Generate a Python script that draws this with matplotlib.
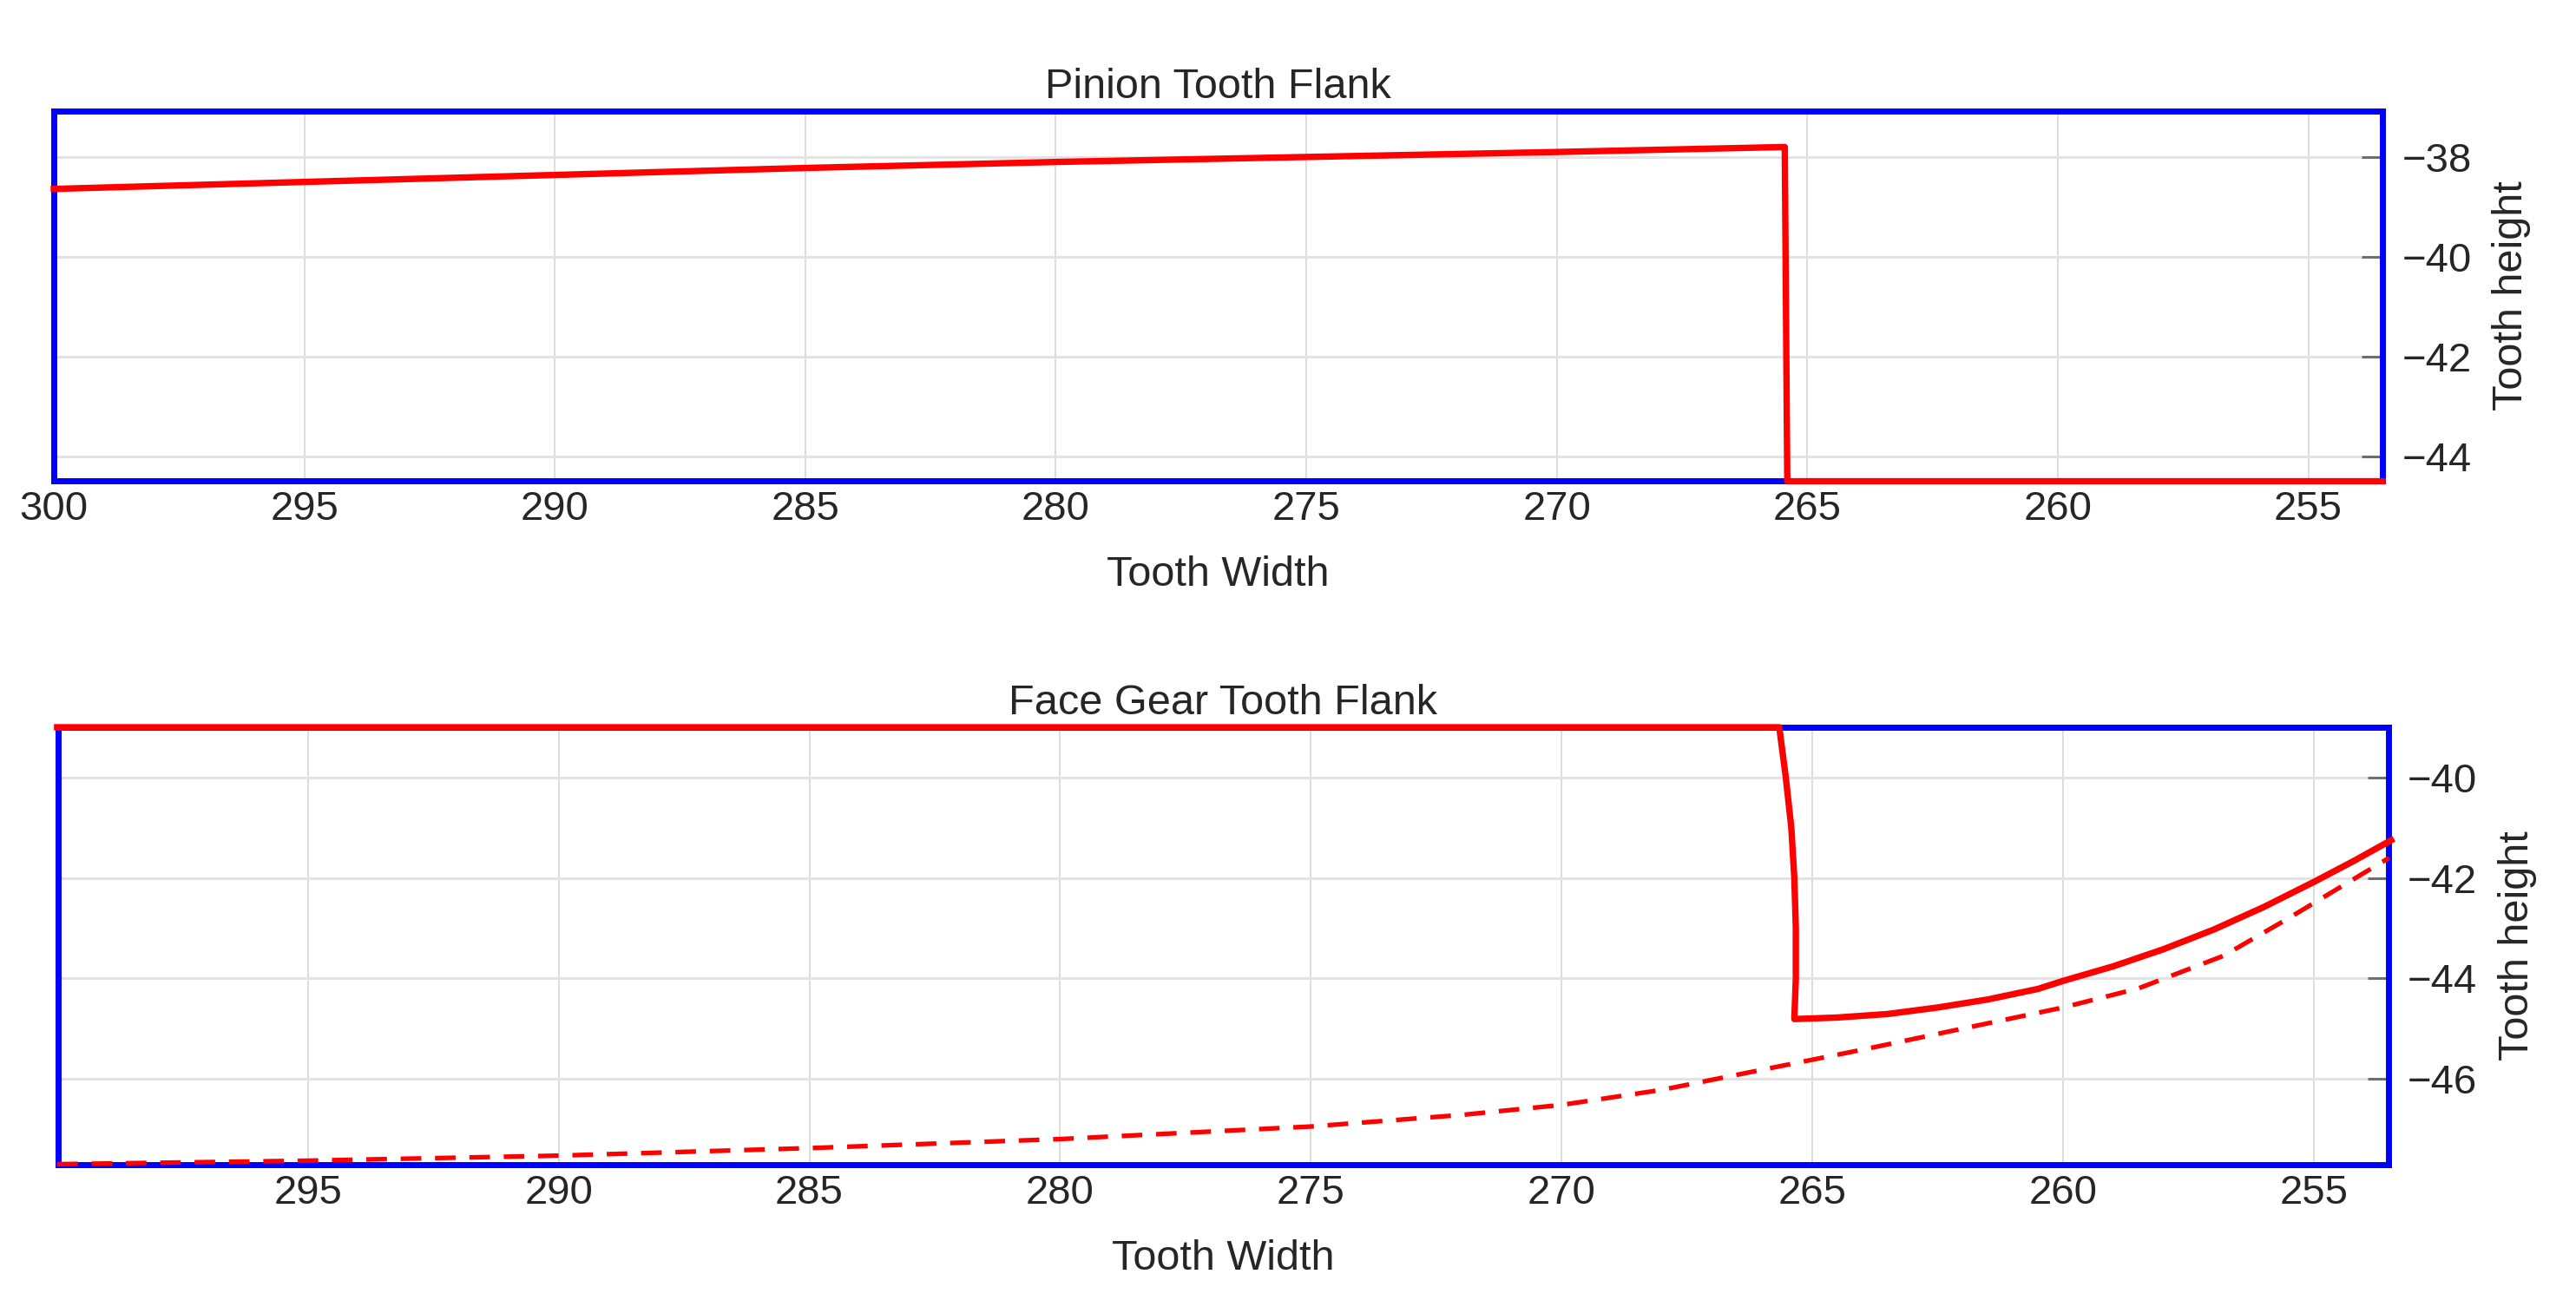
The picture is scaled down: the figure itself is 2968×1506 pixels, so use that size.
import matplotlib
matplotlib.use("Agg")
import matplotlib.pyplot as plt

plt.rcParams["font.family"] = ["Liberation Sans", "DejaVu Sans"]

# Pinion tooth flank profile
pinion_x = [300.0, 295.0, 290.0, 285.0, 280.0, 275.0, 270.0, 265.45, 265.4, 253.52]
pinion_y = [-38.64, -38.50, -38.36, -38.22, -38.10, -38.00, -37.90, -37.80, -44.5, -44.5]

# Face gear tooth flank, solid profile
face_x = [300.0, 265.66, 265.53, 265.42, 265.36, 265.33, 265.33, 265.36,
          264.5, 263.5, 262.5, 261.5, 260.5, 260.0, 259.0, 258.0, 257.0,
          256.0, 255.0, 254.2, 253.46]
face_y = [-39.0, -39.0, -40.0, -41.0, -42.0, -43.0, -44.0, -44.81,
          -44.78, -44.71, -44.58, -44.42, -44.21, -44.05, -43.76, -43.42, -43.03,
          -42.58, -42.08, -41.66, -41.25]

# Face gear tooth flank, dashed profile
dash_x = [300.0, 295.0, 290.0, 285.0, 280.0, 275.0, 272.0, 270.0, 268.0, 266.0,
          264.0, 262.0, 260.0, 258.5, 256.8, 255.5, 254.5, 253.5]
dash_y = [-47.70, -47.63, -47.53, -47.38, -47.20, -46.95, -46.72, -46.52, -46.22, -45.82,
          -45.42, -45.00, -44.58, -44.20, -43.55, -42.80, -42.20, -41.60]

top_yticks = [-38, -40, -42, -44]
bot_yticks = [-40, -42, -44, -46]
top_xticks = [300, 295, 290, 285, 280, 275, 270, 265, 260, 255]
bot_xticks = [295, 290, 285, 280, 275, 270, 265, 260, 255]

W, H = 2968, 1506
fig = plt.figure(figsize=(W / 100, H / 100), dpi=100)

text_col = "#262626"
fs = 35
tick_fs = 34


def style(ax, xlim, ylim, xticks, yticks, title):
    ax.set_xlim(*xlim)
    ax.set_ylim(*ylim)
    ax.set_xticks(xticks)
    ax.set_yticks(yticks)
    ax.yaxis.tick_right()
    ax.yaxis.set_label_position("right")
    for s in ax.spines.values():
        s.set_color("blue")
        s.set_linewidth(5)
    ax.tick_params(axis="x", length=0, pad=8, labelsize=tick_fs, labelcolor=text_col)
    ax.tick_params(axis="y", direction="in", length=17, width=2.2, color="#6e6e6e",
                   pad=16, labelsize=tick_fs, labelcolor=text_col)
    ax.grid(axis="y", color="#e3e3e3", linewidth=2.2)
    ax.grid(axis="x", color="#dadada", linewidth=1.3)
    ax.set_axisbelow(True)
    ax.set_title(title, fontsize=fs, color=text_col, pad=11)
    ax.set_xlabel("Tooth Width", fontsize=fs, color=text_col, labelpad=22)
    ax.set_ylabel("Tooth height", fontsize=fs, color=text_col, labelpad=17)


ax1 = fig.add_axes([62 / W, 1 - 554 / H, (2745 - 62) / W, (554 - 128) / H])
style(ax1, (300.0, 253.52), (-44.49, -37.08), top_xticks, top_yticks, "Pinion Tooth Flank")
ax1.plot(pinion_x, pinion_y, color="red", linewidth=5.3, clip_on=False, zorder=5)

ax2 = fig.add_axes([67 / W, 1 - 1342 / H, (2751.5 - 67) / W, (1342 - 838) / H])
style(ax2, (299.98, 253.52), (-47.71, -39.0), bot_xticks, bot_yticks, "Face Gear Tooth Flank")
ax2.plot(face_x, face_y, color="red", linewidth=5.3, clip_on=False, zorder=5)
ax2.plot(dash_x, dash_y, color="red", linewidth=3.8, dashes=(4.5, 3),
         clip_on=False, zorder=5)

fig.savefig("out.png", dpi=100, facecolor="white")
